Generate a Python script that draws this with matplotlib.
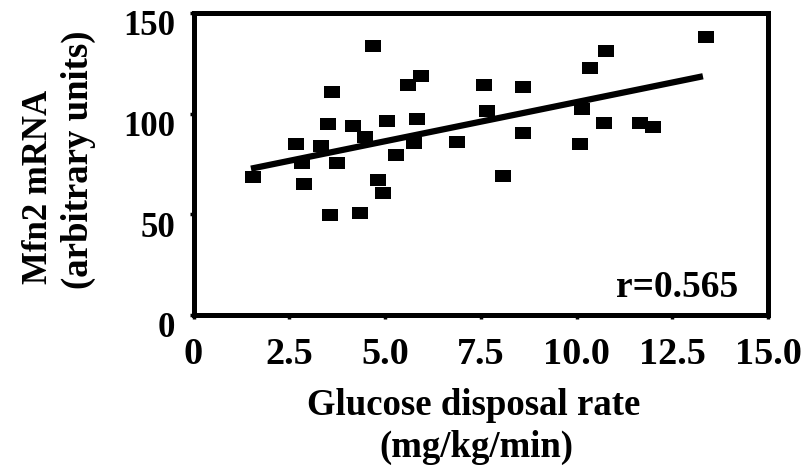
""" Mfn2 mRNA vs glucose disposal rate scatter. """

import matplotlib
matplotlib.use('Agg')
import matplotlib.pyplot as plt
import matplotlib.transforms as mtransforms

plt.rcParams['font.family'] = 'Liberation Serif'
plt.rcParams['font.weight'] = 'bold'

# Glucose disposal rate (mg/kg/min) and Mfn2 mRNA (arbitrary units).
gdr = [1.56, 2.68, 2.84, 2.89, 3.33, 3.52, 3.62, 3.56, 3.75, 4.17,
       4.35, 4.48, 4.69, 4.82, 4.95, 5.06, 5.29, 5.61, 5.95, 5.84,
       5.76, 6.89, 7.59, 7.67, 8.07, 8.59, 8.59, 10.13, 10.08, 10.34,
       10.78, 10.71, 11.65, 11.99, 13.37]
mfn2 = [68.6, 84.9, 75.5, 65.1, 83.9, 94.9, 110.8, 49.7, 75.5, 93.9,
        50.7, 88.4, 133.6, 67.1, 60.6, 96.4, 79.5, 114.3, 118.7, 97.4,
        85.4, 85.9, 114.3, 101.3, 69.0, 113.2, 90.4, 102.3, 84.9, 122.7,
        131.1, 95.4, 95.4, 93.4, 138.1]

# Regression line end points.
fit_x = [1.5, 13.3]
fit_y = [72.7, 118.6]

xticks = [0, 2.5, 5.0, 7.5, 10.0, 12.5, 15.0]
xtick_labels = ['0', '2.5', '5.0', '7.5', '10.0', '12.5', '15.0']
yticks = [0, 50, 100, 150]

DPI = 100
fig = plt.figure(figsize=(8.1, 4.66), dpi=DPI)
ax = fig.add_axes([0.2389, 0.324, 0.7093, 0.648])

ax.plot(fit_x, fit_y, color='black', linewidth=4.5, solid_capstyle='butt')
box = [(-1, -0.8), (1, -0.8), (1, 0.8), (-1, 0.8), (-1, -0.8)]
ax.plot(gdr, mfn2, linestyle='none', marker=box, markersize=11.5,
        markerfacecolor='black', markeredgewidth=0)

ax.set_xlim(0, 15)
ax.set_ylim(0, 150)
ax.set_xticks(xticks)
ax.set_xticklabels(xtick_labels)
ax.set_yticks(yticks)

for side in ['left', 'right', 'top', 'bottom']:
    ax.spines[side].set_linewidth(3.6)
ax.tick_params(axis='x', direction='out', length=3, width=2.5, pad=13,
               labelsize=27.5)
ax.tick_params(axis='y', direction='out', length=3, width=2.5, pad=10,
               labelsize=25)

# Y tick labels sit a little below their ticks in the original.
shift = mtransforms.ScaledTranslation(0, -7 / 72, fig.dpi_scale_trans)
for lbl in ax.get_yticklabels():
    lbl.set_transform(lbl.get_transform() + shift)

ax.text(0.948, 0.06, 'r=0.565', transform=ax.transAxes, ha='right',
        va='baseline', fontsize=27, fontweight='bold')

# Axis titles.
W, H = 810, 466
fig.text(474 / W, 1 - 415 / H, 'Glucose disposal rate', ha='center',
         va='baseline', fontsize=26.5, fontweight='bold')
fig.text(476 / W, 1 - 457 / H, '(mg/kg/min)', ha='center',
         va='baseline', fontsize=26.5, fontweight='bold')
fig.text(47 / W, 1 - 187 / H, 'Mfn2 mRNA', rotation=90,
         rotation_mode='anchor', ha='center', va='baseline',
         fontsize=25, fontweight='bold')
fig.text(88 / W, 1 - 160 / H, '(arbitrary units)', rotation=90,
         rotation_mode='anchor', ha='center', va='baseline',
         fontsize=26.5, fontweight='bold')

fig.savefig('out.png', dpi=DPI)
plt.close(fig)
